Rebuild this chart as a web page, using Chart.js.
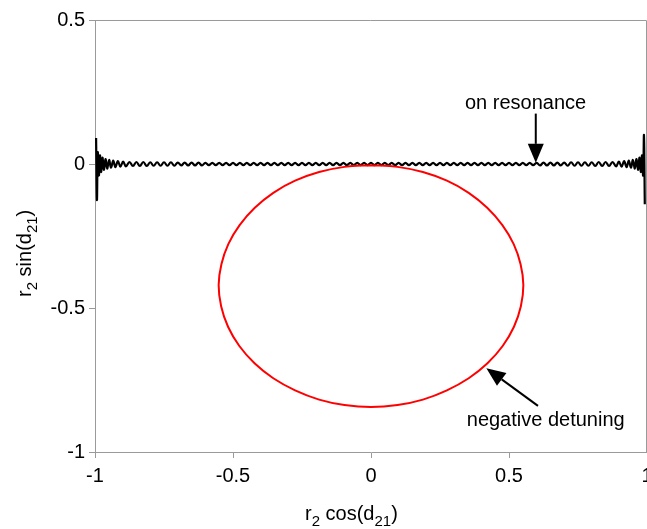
<!DOCTYPE html>
<html>
<head>
<meta charset="utf-8">
<script src="https://cdn.jsdelivr.net/npm/chart.js@4/dist/chart.umd.min.js"></script>
<style>
  html, body { margin: 0; padding: 0; background: #fff; overflow: hidden; }
  canvas { display: block; }
</style>
</head>
<body>
<canvas id="chart" width="659" height="529"></canvas>
<script>
// axis ticks
const xTicks = [-1, -0.5, 0, 0.5, 1];
const yTicks = [-1, -0.5, 0, 0.5];

// on resonance trace (x, y)
const resonanceEdgeLeft = [
    [-0.996, 0.09], [-0.993, -0.125], [-0.99, 0.04], [-0.986, -0.04], [-0.982, 0.03], [-0.978, -0.028],
    [-0.973, 0.022], [-0.968, -0.02], [-0.962, 0.017], [-0.956, -0.016], [-0.949, 0.014], [-0.942, -0.013],
    [-0.934, 0.012], [-0.926, -0.011], [-0.917, 0.01], [-0.908, -0.009], [-0.898, 0.008], [-0.888, -0.008]
];
const resonanceMiddle = [
    [-0.875, 0.007], [-0.8625, -0.007], [-0.85, 0.007], [-0.8375, -0.007], [-0.825, 0.007], [-0.8125, -0.007], [-0.8, 0.006], [-0.7875, -0.006],
    [-0.775, 0.006], [-0.7625, -0.006], [-0.75, 0.006], [-0.7375, -0.006], [-0.725, 0.006], [-0.7125, -0.006], [-0.7, 0.005], [-0.6875, -0.005],
    [-0.675, 0.005], [-0.6625, -0.005], [-0.65, 0.005], [-0.6375, -0.005], [-0.625, 0.005], [-0.6125, -0.005], [-0.6, 0.004], [-0.5875, -0.004],
    [-0.575, 0.004], [-0.5625, -0.004], [-0.55, 0.004], [-0.5375, -0.004], [-0.525, 0.004], [-0.5125, -0.004], [-0.5, 0.004], [-0.4875, -0.004],
    [-0.475, 0.004], [-0.4625, -0.004], [-0.45, 0.004], [-0.4375, -0.004], [-0.425, 0.004], [-0.4125, -0.004], [-0.4, 0.004], [-0.3875, -0.004],
    [-0.375, 0.004], [-0.3625, -0.004], [-0.35, 0.004], [-0.3375, -0.004], [-0.325, 0.004], [-0.3125, -0.004], [-0.3, 0.004], [-0.2875, -0.004],
    [-0.275, 0.004], [-0.2625, -0.004], [-0.25, 0.004], [-0.2375, -0.004], [-0.225, 0.004], [-0.2125, -0.004], [-0.2, 0.004], [-0.1875, -0.004],
    [-0.175, 0.004], [-0.1625, -0.004], [-0.15, 0.004], [-0.1375, -0.004], [-0.125, 0.004], [-0.1125, -0.004], [-0.1, 0.004], [-0.0875, -0.004],
    [-0.075, 0.004], [-0.0625, -0.004], [-0.05, 0.004], [-0.0375, -0.004], [-0.025, 0.004], [-0.0125, -0.004], [0, 0.004], [0.0125, -0.004],
    [0.025, 0.004], [0.0375, -0.004], [0.05, 0.004], [0.0625, -0.004], [0.075, 0.004], [0.0875, -0.004], [0.1, 0.004], [0.1125, -0.004],
    [0.125, 0.004], [0.1375, -0.004], [0.15, 0.004], [0.1625, -0.004], [0.175, 0.004], [0.1875, -0.004], [0.2, 0.004], [0.2125, -0.004],
    [0.225, 0.004], [0.2375, -0.004], [0.25, 0.004], [0.2625, -0.004], [0.275, 0.004], [0.2875, -0.004], [0.3, 0.004], [0.3125, -0.004],
    [0.325, 0.004], [0.3375, -0.004], [0.35, 0.004], [0.3625, -0.004], [0.375, 0.004], [0.3875, -0.004], [0.4, 0.004], [0.4125, -0.004],
    [0.425, 0.004], [0.4375, -0.004], [0.45, 0.004], [0.4625, -0.004], [0.475, 0.004], [0.4875, -0.004], [0.5, 0.004], [0.5125, -0.004],
    [0.525, 0.004], [0.5375, -0.004], [0.55, 0.004], [0.5625, -0.004], [0.575, 0.004], [0.5875, -0.004], [0.6, 0.004], [0.6125, -0.005],
    [0.625, 0.005], [0.6375, -0.005], [0.65, 0.005], [0.6625, -0.005], [0.675, 0.005], [0.6875, -0.005], [0.7, 0.005], [0.7125, -0.006],
    [0.725, 0.006], [0.7375, -0.006], [0.75, 0.006], [0.7625, -0.006], [0.775, 0.006], [0.7875, -0.006], [0.8, 0.006], [0.8125, -0.007],
    [0.825, 0.007], [0.8375, -0.007], [0.85, 0.007], [0.8625, -0.007], [0.875, 0.007]
];
const resonanceEdgeRight = [
    [0.888, -0.008], [0.898, 0.008], [0.908, -0.009], [0.917, 0.01], [0.926, -0.011], [0.934, 0.012],
    [0.942, -0.013], [0.949, 0.014], [0.956, -0.016], [0.962, 0.017], [0.968, -0.02], [0.973, 0.022],
    [0.978, -0.028], [0.982, 0.03], [0.986, -0.04], [0.989, 0.1], [0.992, -0.14]
];

// negative detuning loop (x, y)
const detuningLoop = [
    [0, -0.004], [0.096, -0.01], [0.188, -0.028], [0.275, -0.058], [0.354, -0.1], [0.421, -0.152],
    [0.476, -0.212], [0.517, -0.278], [0.542, -0.348], [0.552, -0.42], [0.543, -0.494], [0.518, -0.565],
    [0.477, -0.632], [0.422, -0.692], [0.354, -0.744], [0.275, -0.786], [0.188, -0.818], [0.096, -0.837],
    [0, -0.844], [-0.096, -0.837], [-0.188, -0.818], [-0.275, -0.786], [-0.354, -0.744], [-0.422, -0.692],
    [-0.477, -0.632], [-0.518, -0.565], [-0.543, -0.494], [-0.552, -0.42], [-0.542, -0.348], [-0.517, -0.278],
    [-0.476, -0.212], [-0.421, -0.152], [-0.354, -0.1], [-0.275, -0.058], [-0.188, -0.028], [-0.096, -0.01],
    [0, -0.004]
];

const FONT = '"Liberation Sans", Arial, Helvetica, sans-serif';
const AXIS_GREY = '#9a9a9a';

// top + right frame lines, annotations, subscripted axis titles
const decorations = {
    id: 'decorations',
    afterDraw(chart) {
        const { ctx, chartArea: a, scales: { x, y } } = chart;
        ctx.save();

        ctx.strokeStyle = AXIS_GREY;
        ctx.lineWidth = 1;
        ctx.beginPath();
        ctx.moveTo(a.left, a.top + 0.5);
        ctx.lineTo(a.right - 0.5, a.top + 0.5);
        ctx.lineTo(a.right - 0.5, a.bottom);
        ctx.stroke();

        // arrows
        drawArrow(ctx, x.getPixelForValue(0.597), y.getPixelForValue(0.175),
            x.getPixelForValue(0.597), y.getPixelForValue(0.004));
        drawArrow(ctx, x.getPixelForValue(0.605), y.getPixelForValue(-0.84),
            x.getPixelForValue(0.418), y.getPixelForValue(-0.709));

        ctx.fillStyle = '#000';
        ctx.font = '20px ' + FONT;
        ctx.textAlign = 'center';
        ctx.textBaseline = 'middle';
        ctx.fillText('on resonance', x.getPixelForValue(0.56), y.getPixelForValue(0.21));
        ctx.fillText('negative detuning', x.getPixelForValue(0.633), y.getPixelForValue(-0.89));

        // axis titles
        ctx.textAlign = 'left';
        ctx.textBaseline = 'alphabetic';
        drawSubText(ctx, [['r', 0], ['2', 1], [' cos(d', 0], ['21', 1], [')', 0]], 305, 520);

        ctx.save();
        ctx.translate(31, 297);
        ctx.rotate(-Math.PI / 2);
        drawSubText(ctx, [['r', 0], ['2', 1], [' sin(d', 0], ['21', 1], [')', 0]], 0, 0);
        ctx.restore();

        ctx.restore();
    }
};

function drawArrow(ctx, x0, y0, x1, y1) {
    const ang = Math.atan2(y1 - y0, x1 - x0);
    const headLen = 19, headW = 8;
    const bx = x1 - headLen * Math.cos(ang), by = y1 - headLen * Math.sin(ang);
    ctx.strokeStyle = '#000';
    ctx.fillStyle = '#000';
    ctx.lineWidth = 2;
    ctx.beginPath();
    ctx.moveTo(x0, y0);
    ctx.lineTo(bx, by);
    ctx.stroke();
    ctx.beginPath();
    ctx.moveTo(x1, y1);
    ctx.lineTo(bx + headW * Math.sin(ang), by - headW * Math.cos(ang));
    ctx.lineTo(bx - headW * Math.sin(ang), by + headW * Math.cos(ang));
    ctx.closePath();
    ctx.fill();
}

function drawSubText(ctx, parts, x, y) {
    ctx.fillStyle = '#000';
    let cx = x;
    parts.forEach(([txt, sub]) => {
        ctx.font = (sub ? '15px ' : '20px ') + FONT;
        ctx.fillText(txt, cx, sub ? y + 6 : y);
        cx += ctx.measureText(txt).width;
    });
}

const resonance = resonanceEdgeLeft.concat(resonanceMiddle, resonanceEdgeRight);

new Chart(document.getElementById('chart'), {
    type: 'scatter',
    data: {
        datasets: [
            {
                label: 'negative detuning',
                data: detuningLoop,
                showLine: true,
                borderColor: '#ff0000',
                borderWidth: 2,
                pointRadius: 0,
                tension: 0.4
            },
            {
                label: 'on resonance',
                data: resonance,
                showLine: true,
                borderColor: '#000000',
                borderWidth: 2.2,
                pointRadius: 0,
                tension: 0.4
            }
        ]
    },
    options: {
        responsive: false,
        animation: false,
        layout: { padding: { top: 20, right: 12, left: 0, bottom: 0 } },
        plugins: {
            legend: { display: false },
            tooltip: { enabled: false }
        },
        scales: {
            x: {
                type: 'linear',
                min: xTicks[0],
                max: xTicks[xTicks.length - 1],
                afterBuildTicks: (s) => { s.ticks = xTicks.map(v => ({ value: v })); },
                afterFit: (s) => { s.height = 77; s.paddingLeft = 0; s.paddingRight = 0; },
                ticks: {
                    color: '#000', font: { family: FONT, size: 20 }, padding: 6, maxRotation: 0,
                    callback: (v) => String(v)
                },
                grid: { drawOnChartArea: false, drawTicks: true, tickLength: 6, tickColor: AXIS_GREY },
                border: { color: AXIS_GREY, width: 1 }
            },
            y: {
                type: 'linear',
                min: yTicks[0],
                max: yTicks[yTicks.length - 1],
                afterBuildTicks: (s) => { s.ticks = yTicks.map(v => ({ value: v })); },
                afterFit: (s) => { s.width = 95; s.paddingTop = 0; s.paddingBottom = 0; },
                ticks: {
                    color: '#000', font: { family: FONT, size: 20 }, padding: 4,
                    callback: (v) => String(v)
                },
                grid: { drawOnChartArea: false, drawTicks: true, tickLength: 6, tickColor: AXIS_GREY },
                border: { color: AXIS_GREY, width: 1 }
            }
        }
    },
    plugins: [decorations]
});
</script>
</body>
</html>
